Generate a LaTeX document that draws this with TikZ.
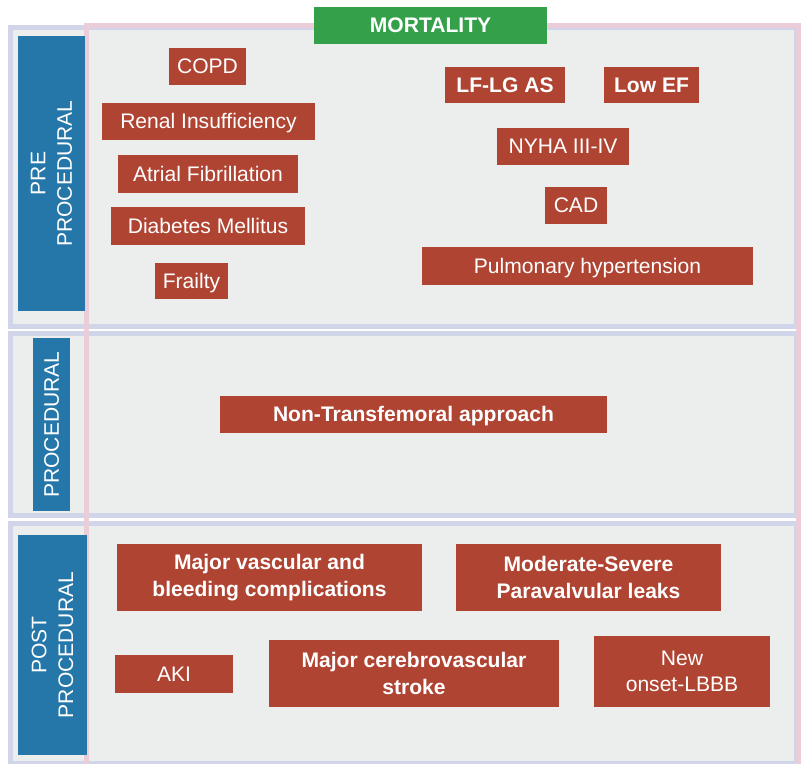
\documentclass[tikz,border=0pt]{standalone}
\usepackage{fontspec}
\setmainfont{Liberation Sans}

\definecolor{lilla}{HTML}{D0D5EA}
\definecolor{grigio}{HTML}{ECEEED}
\definecolor{rosa}{HTML}{EACDD9}
\definecolor{blu}{HTML}{2677A9}
\definecolor{rosso}{HTML}{B04433}
\definecolor{verde}{HTML}{34A04A}

\tikzset{
  pannello/.style={draw=lilla, fill=grigio, line width=3.75pt},
  testo/.style={text=white, inner sep=0pt, align=center, font=\fontsize{15.8}{20}\selectfont},
  riga/.style={text height=14.3pt, text depth=3.35pt},
  fase/.style={testo, fill=blu, rotate=90},
  fattore/.style={testo, fill=rosso},
  forte/.style={font=\fontsize{15.8}{20}\selectfont\bfseries}
}

\begin{document}
\begin{tikzpicture}[x=0.75pt, y=-0.75pt]
  \useasboundingbox (0,0) rectangle (802,763);

  % Pannelli
  \draw[pannello] (10.5,27.5) rectangle (796.5,326.5);
  \draw[pannello] (10.5,333.5) rectangle (796.5,515);
  \draw[pannello] (10.5,523.5) rectangle (796.5,763.5);
  \draw[rosa, line width=3.75pt] (86.5,25.5) rectangle (798.5,770);

  % Fasi
  \node[fase, minimum width=206.25pt, minimum height=50.25pt] (pre) at (51.5,173.5) {PRE\\PROCEDURAL};
  \node[fase, riga, minimum width=129.75pt, minimum height=27.75pt] (proc) at (51.5,424.5) {PROCEDURAL};
  \node[fase, minimum width=165pt, minimum height=51.75pt] (post) at (52.5,645) {POST\\PROCEDURAL};

  % Nodi - pre procedurali
  \node[fattore, riga, minimum width=57.75pt, minimum height=27.75pt] (copd) at (207.5,66.5) {COPD};
  \node[fattore, riga, minimum width=159.75pt, minimum height=27.75pt] (renal) at (208.5,121.5) {Renal Insufficiency};
  \node[fattore, riga, minimum width=135pt, minimum height=28.5pt] (af) at (208,174) {Atrial Fibrillation};
  \node[fattore, riga, minimum width=145.5pt, minimum height=28.5pt] (dm) at (208,226) {Diabetes Mellitus};
  \node[fattore, riga, minimum width=54.75pt, minimum height=27pt] (frail) at (191.5,281) {Frailty};
  \node[fattore, riga, forte, minimum width=90pt, minimum height=27pt] (lflg) at (505,85) {LF-LG AS};
  \node[fattore, riga, forte, minimum width=71.25pt, minimum height=27pt] (ef) at (651.5,85) {Low EF};
  \node[fattore, riga, minimum width=99pt, minimum height=27.75pt] (nyha) at (563,146.5) {NYHA III-IV};
  \node[fattore, riga, minimum width=46.5pt, minimum height=27.75pt] (cad) at (576,205.5) {CAD};
  \node[fattore, riga, minimum width=248.25pt, minimum height=28.5pt] (ph) at (587.5,266) {Pulmonary hypertension};

  % Nodi - procedurali
  \node[fattore, riga, forte, minimum width=290.25pt, minimum height=27.75pt] (ntf) at (413.5,414.5) {Non-Transfemoral approach};

  % Nodi - post procedurali
  \node[fattore, forte, minimum width=228.75pt, minimum height=50.25pt] (vasc) at (269.5,577.5) {Major vascular and\\bleeding complications};
  \node[fattore, forte, minimum width=198.75pt, minimum height=50.25pt] (pvl) at (588.5,577.5) {Moderate-Severe\\Paravalvular leaks};
  \node[fattore, riga, minimum width=88.5pt, minimum height=28.5pt] (aki) at (174,674) {AKI};
  \node[fattore, forte, minimum width=217.5pt, minimum height=50.25pt] (stroke) at (414,673.5) {Major cerebrovascular\\stroke};
  \node[fattore, minimum width=132pt, minimum height=53.25pt] (lbbb) at (682,671.5) {New\\onset-LBBB};

  % Esito
  \node[testo, riga, forte, fill=verde, minimum width=174.75pt, minimum height=27.75pt] (mort) at (430.5,25.5) {MORTALITY};
\end{tikzpicture}
\end{document}
